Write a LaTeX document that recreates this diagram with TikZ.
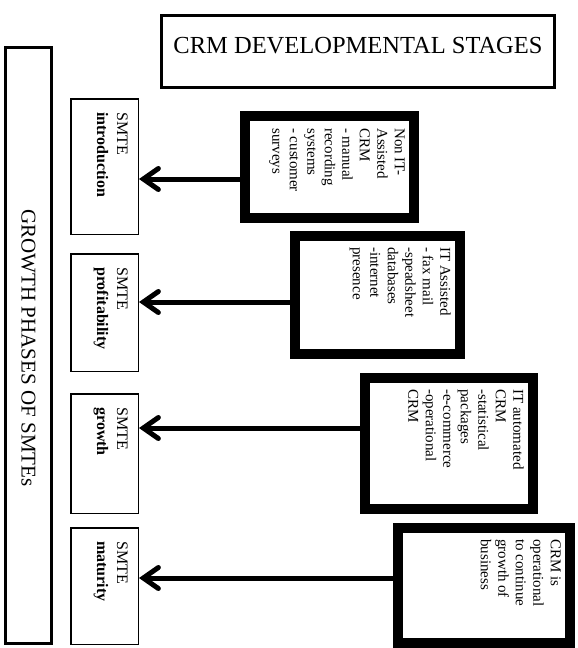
\documentclass[tikz,border=0pt]{standalone}
\usepackage{fontspec}
\setmainfont{Liberation Serif}
\usetikzlibrary{arrows.meta}
\begin{document}
\begin{tikzpicture}[x=1pt,y=-1pt,
  titlebox/.style={draw, line width=3pt, minimum width=#1, inner sep=0pt},
  phasebox/.style={draw, line width=1.5pt, minimum width=67.5pt, inner sep=0pt},
  stagebox/.style={draw, line width=10pt, inner sep=0pt},
  vtext/.style={rotate=-90, inner sep=0pt, align=left, anchor=north west},
  phasetext/.style={vtext, font=\fontsize{16}{20}\selectfont},
  stagetext/.style={vtext, font=\fontsize{15}{17.5}\selectfont},
  arr/.style={line width=5pt, -{Straight Barb[length=15pt,width=21pt,line cap=round]}}
]
\useasboundingbox (0,0) rectangle (578,648);

% heading and side label
\node[titlebox=393pt, minimum height=72pt] (title) at (358,51.5) {};
\node[font=\fontsize{24.5}{28}\selectfont] (titletext) at (358,46) {CRM DEVELOPMENTAL STAGES};
\node[titlebox=46pt, minimum height=596pt] (side) at (28.5,345.5) {};
\node[rotate=-90, inner sep=0pt, font=\fontsize{21}{24}\selectfont] (sidetext) at (28.5,348) {GROWTH PHASES OF SMTEs};

% growth phases
\node[phasebox, minimum height=135.5pt] (s1) at (104.5,166.5) {};
\node[phasebox, minimum height=117.5pt] (s2) at (104.5,312.5) {};
\node[phasebox, minimum height=119.5pt] (s3) at (104.5,453.5) {};
\node[phasebox, minimum height=116.5pt] (s4) at (104.5,586) {};
\node[phasetext] (s1t) at ([xshift=-11pt,yshift=-14pt]s1.north east) {SMTE\\\textbf{introduction}};
\node[phasetext] (s2t) at ([xshift=-11pt,yshift=-14pt]s2.north east) {SMTE\\\textbf{profitability}};
\node[phasetext] (s3t) at ([xshift=-11pt,yshift=-14pt]s3.north east) {SMTE\\\textbf{growth}};
\node[phasetext] (s4t) at ([xshift=-11pt,yshift=-14pt]s4.north east) {SMTE\\\textbf{maturity}};

% CRM stages
\node[stagebox, minimum width=169pt, minimum height=102pt] (a) at (329.5,167) {};
\node[stagebox, minimum width=165pt, minimum height=118pt] (b) at (377.5,295) {};
\node[stagebox, minimum width=168pt, minimum height=131pt] (c) at (449,443.5) {};
\node[stagebox, minimum width=172pt, minimum height=115pt] (d) at (484,585.5) {};
\node[stagetext] (at) at ([xshift=-14pt,yshift=-17pt]a.north east)
  {Non IT-\\Assisted\\CRM\\- manual\\recording\\systems\\- customer\\surveys};
\node[stagetext] (bt) at ([xshift=-14pt,yshift=-16pt]b.north east)
  {IT Assisted\\- fax mail\\-speadsheet\\databases\\-internet\\presence};
\node[stagetext] (ct) at ([xshift=-14pt,yshift=-16pt]c.north east)
  {IT automated\\CRM\\-statistical\\packages\\-e-commerce\\-operational\\CRM};
\node[stagetext] (dt) at ([xshift=-14pt,yshift=-16pt]d.north east)
  {CRM is\\operational\\to continue\\growth of\\business};

% connectors
\coordinate (y1) at (0,179);
\coordinate (y2) at (0,302);
\coordinate (y3) at (0,428);
\coordinate (y4) at (0,578);
\draw[arr] (a.west |- y1) -- (s1.east |- y1);
\draw[arr] (b.west |- y2) -- (s2.east |- y2);
\draw[arr] (c.west |- y3) -- (s3.east |- y3);
\draw[arr] (d.west |- y4) -- (s4.east |- y4);
\end{tikzpicture}
\end{document}
